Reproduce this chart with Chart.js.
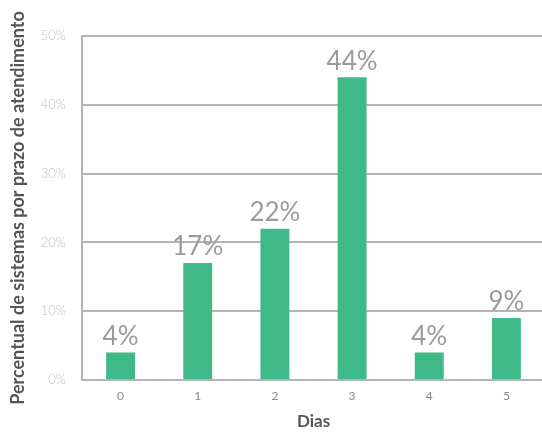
<!DOCTYPE html>
<html>
<head>
<meta charset="utf-8">
<script src="https://cdn.jsdelivr.net/npm/chart.js@4/dist/chart.umd.min.js"></script>
<style>
  html, body { margin: 0; padding: 0; background: #fff; overflow: hidden; }
  #wrap { width: 545px; height: 432px; position: relative; }
</style>
</head>
<body>
<div id="wrap"><canvas id="prazoChart"></canvas></div>
<script>
const dias = ['0', '1', '2', '3', '4', '5'];
const percentuais = [4, 17, 22, 44, 4, 9];
const yTicks = [0, 10, 20, 30, 40, 50];

const gridColor = '#b4b4b8';
const barColor = '#40b989';

// writes the percentage above each bar
const valueLabels = {
  id: 'valueLabels',
  afterDatasetsDraw(chart) {
    const ctx = chart.ctx;
    const meta = chart.getDatasetMeta(0);
    ctx.save();
    ctx.font = '400 26px Lato';
    ctx.fillStyle = '#9b9b9b';
    ctx.textAlign = 'center';
    ctx.textBaseline = 'bottom';
    meta.data.forEach((bar, i) => {
      ctx.fillText(percentuais[i] + '%', bar.x, bar.y - 3);
    });
    ctx.restore();
  }
};

const ctx = document.getElementById('prazoChart').getContext('2d');
new Chart(ctx, {
  type: 'bar',
  data: {
    labels: dias,
    datasets: [{
      data: percentuais,
      backgroundColor: barColor,
      borderWidth: 0,
      barPercentage: 0.75,
      categoryPercentage: 0.5
    }]
  },
  options: {
    responsive: true,
    maintainAspectRatio: false,
    animation: false,
    layout: { padding: { top: 36, left: 7, right: 0, bottom: 0 } },
    plugins: { legend: { display: false }, tooltip: { enabled: false } },
    scales: {
      x: {
        afterFit(scale) { scale.height = 52; },
        grid: { display: false, drawTicks: false },
        border: { color: gridColor, width: 2 },
        ticks: { color: '#8a8a8a', font: { family: 'Lato', size: 12 }, padding: 9 },
        title: {
          display: true,
          text: 'Dias',
          color: '#555',
          font: { family: 'Lato', size: 17, weight: 'bold' },
          padding: { top: 0, bottom: 0 }
        }
      },
      y: {
        min: 0,
        max: 50,
        afterBuildTicks(scale) { scale.ticks = yTicks.map(v => ({ value: v })); },
        afterFit(scale) { scale.width = 75; },
        grid: { color: gridColor, lineWidth: 2, drawTicks: false },
        border: { color: gridColor, width: 2 },
        ticks: {
          color: '#bdbdbd',
          font: { family: 'Lato', size: 13, weight: 300 },
          padding: 16,
          callback: v => v + '%'
        },
        title: {
          display: true,
          text: 'Percentual de sistemas por prazo de atendimento',
          color: '#555',
          font: { family: 'Lato', size: 18, weight: 'bold' },
          padding: { top: 0, bottom: 0 }
        }
      }
    }
  },
  plugins: [valueLabels]
});
</script>
</body>
</html>
